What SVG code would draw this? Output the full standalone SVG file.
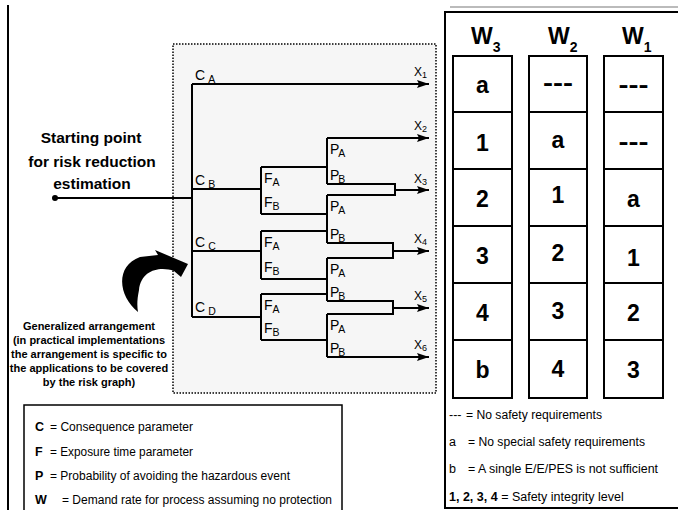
<svg xmlns="http://www.w3.org/2000/svg" width="678" height="510" viewBox="0 0 678 510">
<defs>
<marker id="ah" viewBox="0 0 12 8" refX="12" refY="4" markerWidth="12" markerHeight="8" markerUnits="userSpaceOnUse" orient="auto">
<path d="M0,0 L12,4 L0,8 L2,4 z" fill="#000"/>
</marker>
<style>
text{font-family:"Liberation Sans",Arial,sans-serif;fill:#000}
.ln{fill:none;stroke:#000;stroke-width:2}
.ar{fill:none;stroke:#000;stroke-width:2;marker-end:url(#ah)}
.lab{font-size:14px}
.sub{font-size:10.5px}
.xl{font-size:12px}
.xs{font-size:9px}
.cell{fill:#fff;stroke:#000;stroke-width:2}
.big{font-size:23px;font-weight:bold;text-anchor:middle}
.hd{font-size:23px;font-weight:bold}
.hs{font-size:14px}
.leg{font-size:12.5px}
.bold{font-weight:bold}
.gen{font-size:11px;font-weight:bold;text-anchor:middle}
.sp{font-size:15.5px;font-weight:bold;text-anchor:middle}
</style>
</defs>
<rect width="678" height="510" fill="#fff"/>
<line x1="8" y1="5" x2="8" y2="510" stroke="#000" stroke-width="2"/>

<g id="arrangement-box">
<rect x="173" y="44" width="263" height="349" fill="#f6f6f6" stroke="#000" stroke-width="1.5" stroke-dasharray="1.5,1.5"/>
</g>

<g id="start">
<circle cx="55" cy="198" r="3" fill="#000"/>
<text class="sp" x="91" y="143">Starting point</text>
<text class="sp" x="92" y="167">for risk reduction</text>
<text class="sp" x="92" y="189">estimation</text>
</g>

<g id="connectors">
<path class="ln" d="M55,198 H192 M192,84 V317 M192,189 H261 M192,251 H261 M192,317 H261"/>
<path class="ln" d="M261,167 V214 M261,231 V279 M261,294 V340"/>
<path class="ln" d="M261,167 H327 M261,214 H327 M261,231 H327 M261,279 H327 M261,294 H327 M261,340 H327"/>
<path class="ln" d="M327,138 V184 M327,195 V243 M327,258 V301 M327,314 V357"/>
<path class="ln" d="M327,184 H395 V195 H327 M327,243 H393 V258 H327 M327,301 H393 V314 H327"/>
<path class="ar" d="M192,84 H429"/>
<path class="ar" d="M327,138 H429"/>
<path class="ar" d="M395,190 H429"/>
<path class="ar" d="M393,251 H429"/>
<path class="ar" d="M393,308 H429"/>
<path class="ar" d="M327,357 H429"/>
</g>

<g id="c-labels">
<text class="lab" x="195" y="80">C<tspan class="sub" dx="3" dy="3">A</tspan></text>
<text class="lab" x="195" y="185">C<tspan class="sub" dx="3" dy="3">B</tspan></text>
<text class="lab" x="195" y="247">C<tspan class="sub" dx="3" dy="3">C</tspan></text>
<text class="lab" x="195" y="312">C<tspan class="sub" dx="3" dy="3">D</tspan></text>
</g>

<g id="f-labels">
<text class="lab" x="264" y="183">F<tspan class="sub" dy="3">A</tspan></text>
<text class="lab" x="264" y="207">F<tspan class="sub" dy="3">B</tspan></text>
<text class="lab" x="264" y="247">F<tspan class="sub" dy="3">A</tspan></text>
<text class="lab" x="264" y="272">F<tspan class="sub" dy="3">B</tspan></text>
<text class="lab" x="264" y="310">F<tspan class="sub" dy="3">A</tspan></text>
<text class="lab" x="264" y="333">F<tspan class="sub" dy="3">B</tspan></text>
</g>

<g id="p-labels">
<text class="lab" x="330" y="154">P<tspan class="sub" dx="-1" dy="3">A</tspan></text>
<text class="lab" x="330" y="180">P<tspan class="sub" dx="-1" dy="3">B</tspan></text>
<text class="lab" x="330" y="211">P<tspan class="sub" dx="-1" dy="3">A</tspan></text>
<text class="lab" x="330" y="239">P<tspan class="sub" dx="-1" dy="3">B</tspan></text>
<text class="lab" x="330" y="274">P<tspan class="sub" dx="-1" dy="3">A</tspan></text>
<text class="lab" x="330" y="297">P<tspan class="sub" dx="-1" dy="3">B</tspan></text>
<text class="lab" x="330" y="330">P<tspan class="sub" dx="-1" dy="3">A</tspan></text>
<text class="lab" x="330" y="353">P<tspan class="sub" dx="-1" dy="3">B</tspan></text>
</g>

<g id="x-labels">
<text class="xl" x="414" y="76">X<tspan class="xs" dy="2">1</tspan></text>
<text class="xl" x="414" y="130">X<tspan class="xs" dy="2">2</tspan></text>
<text class="xl" x="414" y="183">X<tspan class="xs" dy="2">3</tspan></text>
<text class="xl" x="414" y="243">X<tspan class="xs" dy="2">4</tspan></text>
<text class="xl" x="414" y="300">X<tspan class="xs" dy="2">5</tspan></text>
<text class="xl" x="414" y="349">X<tspan class="xs" dy="2">6</tspan></text>
</g>

<g id="curved-arrow">
<path d="M138,312 C118,296 115,266 140,257 L158,255 L155,250 L188,264 L181,277 L174,271 C160,266 141,270 139,290 C137,300 137,306 138,312 Z" fill="#000"/>
</g>

<g id="generalized-note">
<text class="gen" x="89" y="330">Generalized arrangement</text>
<text class="gen" x="89" y="344">(in practical implementations</text>
<text class="gen" x="89" y="358">the arrangement is specific to</text>
<text class="gen" x="89" y="372">the applications to be covered</text>
<text class="gen" x="89" y="386">by the risk graph)</text>
</g>

<g id="legend-left">
<rect x="24" y="405" width="318" height="110" fill="#fff" stroke="#000" stroke-width="1.5"/>
<text class="leg" x="35" y="431"><tspan class="bold">C</tspan></text>
<text class="leg" x="50" y="431" textLength="143" lengthAdjust="spacingAndGlyphs">= Consequence parameter</text>
<text class="leg" x="35" y="456"><tspan class="bold">F</tspan></text>
<text class="leg" x="50" y="456" textLength="143" lengthAdjust="spacingAndGlyphs">= Exposure time parameter</text>
<text class="leg" x="35" y="480"><tspan class="bold">P</tspan></text>
<text class="leg" x="50" y="480" textLength="240" lengthAdjust="spacingAndGlyphs">= Probability of avoiding the hazardous event</text>
<text class="leg" x="35" y="504"><tspan class="bold">W</tspan></text>
<text class="leg" x="62" y="504" textLength="270" lengthAdjust="spacingAndGlyphs">= Demand rate for process assuming no protection</text>
</g>

<g id="table">
<line x1="450" y1="7" x2="678" y2="7" stroke="#bbb" stroke-width="2"/>
<rect x="445" y="12" width="240" height="496" fill="#fff" stroke="#000" stroke-width="2"/>
<text class="hd" x="471" y="44">W<tspan class="hs" dy="8">3</tspan></text>
<text class="hd" x="548" y="44">W<tspan class="hs" dy="8">2</tspan></text>
<text class="hd" x="622" y="44">W<tspan class="hs" dy="8">1</tspan></text>
</g>

<g id="col-w3">
<rect class="cell" x="453" y="56" width="59" height="342"/>
<path class="ln" d="M453,112 H512 M453,169 H512 M453,226 H512 M453,283 H512 M453,340 H512"/>
<text class="big" x="482.5" y="93">a</text>
<text class="big" x="482.5" y="151">1</text>
<text class="big" x="482.5" y="207">2</text>
<text class="big" x="482.5" y="264">3</text>
<text class="big" x="482.5" y="321">4</text>
<text class="big" x="482.5" y="378">b</text>
</g>

<g id="col-w2">
<rect class="cell" x="529" y="56" width="58" height="342"/>
<path class="ln" d="M529,112 H587 M529,169 H587 M529,226 H587 M529,283 H587 M529,340 H587"/>
<text class="big" x="558" y="91" textLength="30" lengthAdjust="spacingAndGlyphs">---</text>
<text class="big" x="558" y="148">a</text>
<text class="big" x="558" y="203">1</text>
<text class="big" x="558" y="261">2</text>
<text class="big" x="558" y="319">3</text>
<text class="big" x="558" y="377">4</text>
</g>

<g id="col-w1">
<rect class="cell" x="604" y="56" width="59" height="342"/>
<path class="ln" d="M604,112 H663 M604,169 H663 M604,226 H663 M604,283 H663 M604,340 H663"/>
<text class="big" x="633.5" y="93" textLength="30" lengthAdjust="spacingAndGlyphs">---</text>
<text class="big" x="633.5" y="150" textLength="30" lengthAdjust="spacingAndGlyphs">---</text>
<text class="big" x="633.5" y="207">a</text>
<text class="big" x="633.5" y="266">1</text>
<text class="big" x="633.5" y="321">2</text>
<text class="big" x="633.5" y="378">3</text>
</g>

<g id="legend-right">
<text class="leg" x="449" y="419">---</text>
<text class="leg" x="466" y="419" textLength="136" lengthAdjust="spacingAndGlyphs">= No safety requirements</text>
<text class="leg" x="449" y="446">a</text>
<text class="leg" x="468" y="446" textLength="177" lengthAdjust="spacingAndGlyphs">= No special safety requirements</text>
<text class="leg" x="449" y="473">b</text>
<text class="leg" x="468" y="473" textLength="190" lengthAdjust="spacingAndGlyphs">= A single E/E/PES is not sufficient</text>
<text class="leg" x="449" y="501"><tspan class="bold">1, 2, 3, 4</tspan> = Safety integrity level</text>
</g>
</svg>
